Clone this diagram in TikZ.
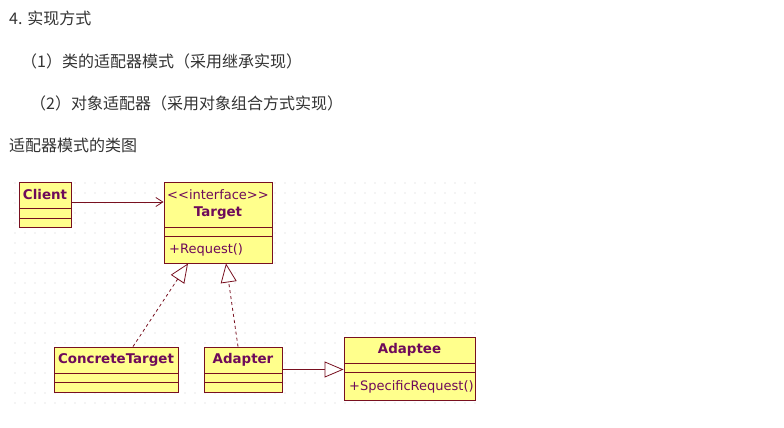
\documentclass[tikz,border=0pt]{standalone}
\usepackage{fontspec}
\setmainfont{DejaVu Sans}
\newfontfamily\cjk{Noto Sans CJK SC}
\usetikzlibrary{arrows.meta}
\definecolor{umlfill}{RGB}{255,255,140}
\definecolor{umlline}{RGB}{120,16,32}
\definecolor{umltext}{RGB}{110,10,90}
\definecolor{bodytext}{RGB}{51,51,51}
\definecolor{griddot}{RGB}{210,210,210}
\tikzset{
  umlbox/.style={draw=umlline, fill=umlfill, line width=0.9pt, inner sep=0pt, rectangle},
  clsname/.style={text=umltext, font=\fontsize{13.4}{15}\selectfont\bfseries, inner sep=0pt},
  clstext/.style={text=umltext, font=\fontsize{13}{15}\selectfont, inner sep=0pt},
  headtext/.style={text=bodytext, font=\cjk\fontsize{16}{19}\selectfont, inner sep=0pt, anchor=west},
  conn/.style={draw=umlline, line width=0.8pt},
  realize/.style={conn, dash pattern=on 3pt off 3pt, -{Triangle[open, fill=white, length=19pt, width=16pt, line width=0.8pt]}},
  inherit/.style={conn, -{Triangle[open, fill=white, length=19pt, width=16pt, line width=0.8pt]}},
  assoc/.style={conn, -{Straight Barb[length=7pt, width=9pt, line width=0.8pt]}},
}
\begin{document}
\begin{tikzpicture}[x=1pt, y=-1pt]
\useasboundingbox (0,0) rectangle (784,428);
\fill[white] (0,0) rectangle (784,428);

% headings
\node[headtext] (h1) at (9,18) {4. 实现方式};
\node[headtext] (h2) at (21,61) {（1）类的适配器模式（采用继承实现）};
\node[headtext] (h3) at (30,103) {（2）对象适配器（采用对象组合方式实现）};
\node[headtext] (h4) at (9,145) {适配器模式的类图};

% grid dots
\foreach \i in {0,...,46}{
  \foreach \j in {0,...,22}{
    \fill[griddot] (15+\i*10, 183+\j*10) circle (0.65pt);
  }
}

% Client
\node[umlbox, minimum width=52pt, minimum height=45pt] (client) at (45,204.5) {};
\draw[umlline, line width=0.9pt] (19,208) -- (71,208) (19,218) -- (71,218);
\node[clsname] (clientname) at (45,195) {Client};

% Target
\node[umlbox, minimum width=108pt, minimum height=81pt] (target) at (218,222.5) {};
\draw[umlline, line width=0.9pt] (164,227) -- (272,227) (164,236) -- (272,236);
\node[clstext] (stereo) at (218,195) {<{}<interface>{}>};
\node[clsname] (targetname) at (218,213) {Target};
\node[clstext, anchor=west] (request) at (169,250) {+Request()};

% ConcreteTarget
\node[umlbox, minimum width=124pt, minimum height=45pt] (ct) at (116,369.5) {};
\draw[umlline, line width=0.9pt] (54,373) -- (178,373) (54,382) -- (178,382);
\node[clsname] (ctname) at (116,360) {ConcreteTarget};

% Adapter
\node[umlbox, minimum width=78pt, minimum height=45pt] (adapter) at (243,369.5) {};
\draw[umlline, line width=0.9pt] (204,373) -- (282,373) (204,382) -- (282,382);
\node[clsname] (adaptername) at (243,360) {Adapter};

% Adaptee
\node[umlbox, minimum width=131pt, minimum height=63pt] (adaptee) at (409.5,368.5) {};
\draw[umlline, line width=0.9pt] (344,363) -- (475,363) (344,372) -- (475,372);
\node[clsname] (adapteename) at (409.5,350) {Adaptee};
\node[clstext, anchor=west] (specreq) at (349,387) {+SpecificRequest()};

% connectors
\draw[assoc] ([yshift=2.5pt]client.east) -- ([yshift=2.5pt]target.west |- client.east);
\draw[realize] ([xshift=17pt]ct.north) -- ([xshift=-30pt]target.south);
\draw[realize] ([xshift=-5pt]adapter.north) -- ([xshift=8pt]target.south);
\draw[inherit] (adapter.east) -- (adaptee.west |- adapter.east);
\end{tikzpicture}
\end{document}
